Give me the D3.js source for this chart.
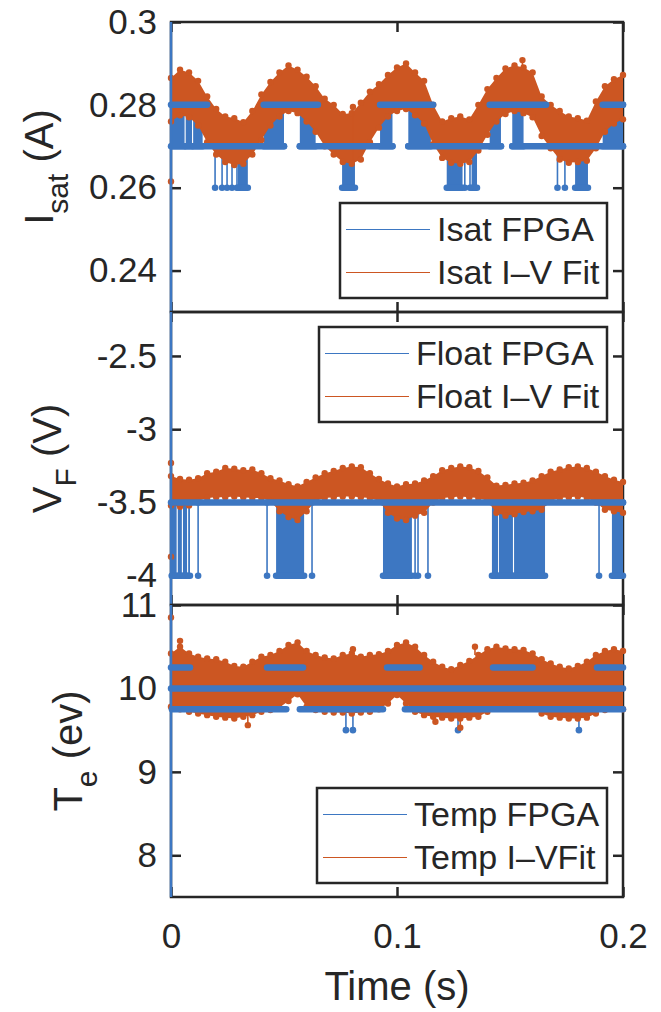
<!DOCTYPE html>
<html>
<head>
<meta charset="utf-8">
<script src="https://cdn.jsdelivr.net/npm/d3@7"></script>
<style>
  body { margin: 0; background: #fff; }
  svg { display: block; font-family: "Liberation Sans", Arial, Helvetica, sans-serif; }
</style>
</head>
<body>
<div id="graph"></div>
<script>
// ---- values ----
const xTicks = [0, 0.1, 0.2]
const xTickLabels = ['0', '0.1', '0.2']

// sample times of the I-V fit envelope (s)
const fitT = [0, 0.004, 0.008, 0.012, 0.016, 0.02, 0.024, 0.028, 0.032, 0.036, 0.04, 0.044, 0.048, 0.052, 0.056, 0.06, 0.064, 0.068, 0.072, 0.076, 0.08, 0.084, 0.088, 0.092, 0.096, 0.1, 0.104, 0.108, 0.112, 0.116, 0.12, 0.124, 0.128, 0.132, 0.136, 0.14, 0.144, 0.148, 0.152, 0.156, 0.16, 0.164, 0.168, 0.172, 0.176, 0.18, 0.184, 0.188, 0.192, 0.196, 0.2]

// Isat (A)
const isatTicks = [0.24, 0.26, 0.28, 0.3]
const isatTickLabels = ['0.24', '0.26', '0.28', '0.3']
const isatFitHi = [0.2865, 0.2885, 0.2878, 0.2858, 0.2820, 0.2790, 0.2772, 0.2768, 0.2758, 0.2785, 0.2825, 0.2855, 0.2878, 0.2895, 0.2885, 0.2868, 0.2845, 0.2815, 0.2800, 0.2778, 0.2780, 0.2805, 0.2832, 0.2850, 0.2872, 0.2890, 0.2900, 0.2878, 0.2858, 0.2800, 0.2760, 0.2768, 0.2772, 0.2765, 0.2800, 0.2838, 0.2865, 0.2888, 0.2895, 0.2890, 0.2878, 0.2820, 0.2800, 0.2785, 0.2772, 0.2768, 0.2762, 0.2808, 0.2845, 0.2862, 0.2872]
const isatFitLo = [0.2760, 0.2775, 0.2770, 0.2750, 0.2710, 0.2680, 0.2662, 0.2655, 0.2658, 0.2680, 0.2715, 0.2750, 0.2772, 0.2785, 0.2780, 0.2760, 0.2735, 0.2700, 0.2680, 0.2662, 0.2658, 0.2668, 0.2710, 0.2745, 0.2772, 0.2785, 0.2790, 0.2775, 0.2755, 0.2705, 0.2672, 0.2660, 0.2658, 0.2662, 0.2690, 0.2728, 0.2760, 0.2778, 0.2785, 0.2780, 0.2770, 0.2725, 0.2695, 0.2668, 0.2660, 0.2662, 0.2665, 0.2695, 0.2735, 0.2755, 0.2765]
const isatFitOut = [[0, 0.2615], [0.0805, 0.2795], [0.1555, 0.2908]]
// FPGA: held levels [t0, t1, level]
const isatRuns = [[0, 0.016, 0.28], [0.041, 0.065, 0.28], [0.0925, 0.116, 0.28], [0.141, 0.166, 0.28], [0.191, 0.2, 0.28],
  [0, 0.05, 0.27], [0.057, 0.098, 0.27], [0.105, 0.146, 0.27], [0.151, 0.2, 0.27]]
// FPGA: fast toggling [t0, t1, lo, hi]
const isatBlocks = [[0.0004, 0.006, 0.27, 0.28], [0.0065, 0.0093, 0.27, 0.28], [0.0098, 0.014, 0.27, 0.28], [0.041, 0.05, 0.27, 0.28],
  [0.057, 0.064, 0.27, 0.28], [0.0925, 0.098, 0.27, 0.28], [0.105, 0.115, 0.27, 0.28], [0.141, 0.146, 0.27, 0.28],
  [0.151, 0.156, 0.27, 0.28], [0.191, 0.2, 0.27, 0.28],
  [0.0296, 0.034, 0.26, 0.27], [0.0757, 0.0814, 0.26, 0.27], [0.122, 0.129, 0.26, 0.27], [0.133, 0.1354, 0.26, 0.27], [0.1788, 0.1845, 0.26, 0.27]]
// FPGA: single switches [t, lo, hi]
const isatStems = [[0.0195, 0.26, 0.27], [0.0226, 0.26, 0.27], [0.0248, 0.26, 0.27], [0.027, 0.26, 0.27], [0.0292, 0.26, 0.27],
  [0.130, 0.26, 0.27], [0.1323, 0.26, 0.27], [0.171, 0.26, 0.27], [0.1743, 0.26, 0.27]]
const isatInit = [0.2, 0.31]

// Floating potential (V)
const floatTicks = [-4, -3.5, -3, -2.5]
const floatTickLabels = ['-4', '-3.5', '-3', '-2.5']
const floatFitHi = [-3.32, -3.34, -3.345, -3.335, -3.30, -3.29, -3.265, -3.27, -3.28, -3.275, -3.30, -3.335, -3.35, -3.375, -3.39, -3.36, -3.33, -3.30, -3.285, -3.265, -3.255, -3.26, -3.30, -3.34, -3.37, -3.39, -3.375, -3.37, -3.35, -3.32, -3.28, -3.265, -3.255, -3.26, -3.285, -3.33, -3.385, -3.38, -3.37, -3.365, -3.35, -3.32, -3.29, -3.275, -3.26, -3.255, -3.265, -3.29, -3.32, -3.345, -3.36]
const floatFitLo = [-3.52, -3.53, -3.52, -3.49, -3.47, -3.465, -3.465, -3.46, -3.465, -3.47, -3.47, -3.49, -3.56, -3.60, -3.62, -3.56, -3.49, -3.47, -3.465, -3.46, -3.46, -3.465, -3.47, -3.49, -3.57, -3.61, -3.62, -3.59, -3.57, -3.50, -3.47, -3.465, -3.46, -3.465, -3.47, -3.49, -3.57, -3.59, -3.58, -3.565, -3.56, -3.55, -3.49, -3.47, -3.465, -3.46, -3.47, -3.50, -3.55, -3.56, -3.57]
const floatFitOut = [[0, -3.87], [0, -3.23]]
const floatRuns = [[0, 0.2, -3.5]]
const floatBlocks = [[0.0003, 0.0025, -4, -3.5], [0.003, 0.0048, -4, -3.5], [0.0053, 0.0071, -4, -3.5], [0.0076, 0.0084, -4, -3.5],
  [0.0465, 0.0589, -4, -3.5], [0.0938, 0.1066, -4, -3.5], [0.142, 0.1447, -4, -3.5], [0.1451, 0.1513, -4, -3.5],
  [0.1518, 0.1655, -4, -3.5], [0.1951, 0.2, -4, -3.5]]
const floatStems = [[0.012, -4, -3.5], [0.0425, -4, -3.5], [0.0624, -4, -3.5], [0.108, -4, -3.5], [0.1093, -4, -3.5], [0.1137, -4, -3.5], [0.1894, -4, -3.5]]
const floatInit = [-4.3, -2.1]

// Electron temperature (eV)
const tempTicks = [8, 9, 10, 11]
const tempTickLabels = ['8', '9', '10', '11']
const tempFitHi = [10.42, 10.5, 10.42, 10.38, 10.36, 10.35, 10.32, 10.27, 10.26, 10.32, 10.38, 10.4, 10.45, 10.52, 10.55, 10.45, 10.4, 10.37, 10.36, 10.4, 10.42, 10.38, 10.4, 10.41, 10.45, 10.52, 10.55, 10.5, 10.4, 10.32, 10.26, 10.23, 10.28, 10.33, 10.4, 10.47, 10.5, 10.48, 10.47, 10.46, 10.42, 10.35, 10.3, 10.26, 10.24, 10.27, 10.32, 10.4, 10.45, 10.47, 10.45]
const tempFitLo = [9.78, 9.75, 9.72, 9.7, 9.68, 9.66, 9.65, 9.64, 9.66, 9.68, 9.72, 9.74, 9.77, 9.85, 9.93, 9.78, 9.74, 9.72, 9.71, 9.71, 9.7, 9.71, 9.72, 9.75, 9.82, 9.92, 9.82, 9.72, 9.68, 9.66, 9.65, 9.64, 9.64, 9.65, 9.66, 9.72, 9.78, 9.77, 9.78, 9.78, 9.76, 9.7, 9.66, 9.65, 9.64, 9.64, 9.65, 9.7, 9.74, 9.76, 9.75]
const tempFitOut = [[0, 10.85], [0.004, 10.57], [0.034, 9.56], [0.0805, 10.47], [0.117, 9.6], [0.128, 9.53], [0.1345, 10.5]]
const tempRuns = [[0, 0.2, 10], [0, 0.0084, 10.25], [0.0425, 0.0584, 10.25], [0.0956, 0.110, 10.25], [0.1425, 0.160, 10.25], [0.1885, 0.2, 10.25],
  [0.0004, 0.051, 9.75], [0.057, 0.0938, 9.75], [0.1035, 0.2, 9.75]]
const tempBlocks = []
const tempStems = [[0.0774, 9.5, 9.75], [0.0805, 9.5, 9.75], [0.127, 9.5, 9.75], [0.1805, 9.5, 9.75]]
const tempInit = [7.4, 11.1]

// ---- layout ----
const W = 661, H = 1012
const ink = '#262626'
const blue = '#3d77c2'
const orange = '#cc5622'
const tickFont = 35, labelFont = 40, legendFont = 34

const panels = [
  {top: 22, bottom: 312, domain: [0.23, 0.3], ticks: isatTicks, tickLabels: isatTickLabels, label: ['I', 'sat', ' (A)'],
   legend: ['Isat FPGA', 'Isat I\u2013V Fit'], legendAt: 'bottom',
   hi: isatFitHi, lo: isatFitLo, out: isatFitOut, runs: isatRuns, blocks: isatBlocks, stems: isatStems, init: isatInit},
  {top: 312, bottom: 605, domain: [-4.2, -2.2], ticks: floatTicks, tickLabels: floatTickLabels, label: ['V', 'F', ' (V)'],
   legend: ['Float FPGA', 'Float I\u2013V Fit'], legendAt: 'top',
   hi: floatFitHi, lo: floatFitLo, out: floatFitOut, runs: floatRuns, blocks: floatBlocks, stems: floatStems, init: floatInit},
  {top: 605, bottom: 897, domain: [7.5, 11], ticks: tempTicks, tickLabels: tempTickLabels, label: ['T', 'e', ' (ev)'],
   legend: ['Temp FPGA', 'Temp I\u2013VFit'], legendAt: 'bottom',
   hi: tempFitHi, lo: tempFitLo, out: tempFitOut, runs: tempRuns, blocks: tempBlocks, stems: tempStems, init: tempInit}
]

const svg = d3.select('#graph').append('svg').attr('width', W).attr('height', H)

const x = d3.scaleLinear().domain([0, 0.2]).range([171, 623])
const [x0, x1] = x.range()

const styleAxis = (g) => {
  g.attr('font-size', tickFont).attr('font-family', null).attr('color', ink)
  g.select('.domain').remove()
  g.selectAll('.tick line').attr('stroke-width', 2.5)
  g.selectAll('.tick text').attr('fill', ink)
}

panels.forEach((p, pi) => {
  const y = d3.scaleLinear().domain(p.domain).range([p.bottom, p.top])
  const g = svg.append('g')

  // box
  g.append('rect')
    .attr('x', x0).attr('y', p.top)
    .attr('width', x1 - x0).attr('height', p.bottom - p.top)
    .attr('fill', 'none').attr('stroke', ink).attr('stroke-width', 2.5)

  // inward ticks on all four sides
  const yAx = g.append('g').attr('transform', `translate(${x0},0)`)
    .call(d3.axisLeft(y).tickValues(p.ticks).tickFormat((d, i) => p.tickLabels[i])
      .tickSizeInner(-10).tickSizeOuter(0).tickPadding(14))
    .call(styleAxis)
  g.append('g').attr('transform', `translate(${x1},0)`)
    .call(d3.axisRight(y).tickValues(p.ticks).tickFormat(() => '').tickSizeInner(-10).tickSizeOuter(0))
    .call(styleAxis)
  g.append('g').attr('transform', `translate(0,${p.top})`)
    .call(d3.axisTop(x).tickValues(xTicks).tickFormat(() => '').tickSizeInner(-10).tickSizeOuter(0))
    .call(styleAxis)
  const last = pi === panels.length - 1
  g.append('g').attr('transform', `translate(0,${p.bottom})`)
    .call(d3.axisBottom(x).tickValues(xTicks).tickFormat((d, i) => last ? xTickLabels[i] : '')
      .tickSizeInner(-10).tickSizeOuter(0).tickPadding(26))
    .call(styleAxis)

  // y label, placed left of the tick labels
  let minLeft = Infinity
  yAx.selectAll('.tick text').each(function () {
    const b = this.getBBox()
    const m = this.parentNode.transform.baseVal.consolidate().matrix
    minLeft = Math.min(minLeft, x0 + m.e + b.x)
  })
  const lab = svg.append('text')
    .attr('font-size', labelFont).attr('fill', ink).attr('text-anchor', 'middle')
  lab.append('tspan').text(p.label[0])
  lab.append('tspan').attr('font-size', labelFont * 0.75).attr('dy', 15).text(p.label[1])
  lab.append('tspan').attr('dy', -15).text(p.label[2])
  const lb = lab.node().getBBox()
  const tx = minLeft - 15 - (lb.y + lb.height)
  lab.attr('transform', `translate(${tx},${(p.top + p.bottom) / 2}) rotate(-90)`)

  // data, clipped to the axes
  const clipId = 'clip' + pi
  svg.append('clipPath').attr('id', clipId).append('rect')
    .attr('x', x0 - 4).attr('y', p.top).attr('width', x1 - x0 + 8).attr('height', p.bottom - p.top)
  const d = svg.append('g').attr('clip-path', `url(#${clipId})`)

  // FPGA fast toggling blocks
  p.blocks.forEach(b => {
    d.append('rect')
      .attr('x', x(b[0])).attr('y', y(b[3]))
      .attr('width', x(b[1]) - x(b[0])).attr('height', y(b[2]) - y(b[3]))
      .attr('fill', blue)
    ;[b[2], b[3]].forEach(v => d.append('line')
      .attr('x1', x(b[0])).attr('x2', x(b[1])).attr('y1', y(v)).attr('y2', y(v))
      .attr('stroke', blue).attr('stroke-width', 6.5).attr('stroke-linecap', 'round'))
  })
  // FPGA single switches
  p.stems.forEach(s => {
    d.append('line')
      .attr('x1', x(s[0])).attr('x2', x(s[0])).attr('y1', y(s[1])).attr('y2', y(s[2]))
      .attr('stroke', blue).attr('stroke-width', 1.6)
    ;[s[1], s[2]].forEach(v => d.append('circle')
      .attr('cx', x(s[0])).attr('cy', y(v)).attr('r', 3.3).attr('fill', blue))
  })

  // I-V fit band
  const area = d3.area()
    .x((t) => x(t))
    .y0((t, i) => y(p.lo[i]))
    .y1((t, i) => y(p.hi[i]))
  d.append('path').datum(fitT).attr('d', area).attr('fill', orange)
  fitT.forEach((t, i) => {
    ;[p.hi[i], p.lo[i]].forEach(v => d.append('circle')
      .attr('cx', x(t)).attr('cy', y(v)).attr('r', 3.2).attr('fill', orange))
  })
  const bis = d3.bisector(t => t).left
  p.out.forEach(o => {
    const i = Math.min(bis(fitT, o[0]), fitT.length - 1)
    const edge = o[1] > p.hi[i] ? p.hi[i] : p.lo[i]
    d.append('line')
      .attr('x1', x(o[0])).attr('x2', x(o[0])).attr('y1', y(edge)).attr('y2', y(o[1]))
      .attr('stroke', orange).attr('stroke-width', 1.6)
    d.append('circle').attr('cx', x(o[0])).attr('cy', y(o[1])).attr('r', 3.2).attr('fill', orange)
  })

  // FPGA held levels on top
  p.runs.forEach(r => {
    d.append('line')
      .attr('x1', x(r[0])).attr('x2', x(r[1])).attr('y1', y(r[2])).attr('y2', y(r[2]))
      .attr('stroke', blue).attr('stroke-width', 6.5).attr('stroke-linecap', 'round')
  })
  // start-up transient at t = 0
  d.append('line')
    .attr('x1', x(0)).attr('x2', x(0)).attr('y1', y(p.init[0])).attr('y2', y(p.init[1]))
    .attr('stroke', blue).attr('stroke-width', 2.5)

  // legend
  const leg = svg.append('g')
  const box = leg.append('rect').attr('fill', '#fff').attr('stroke', ink).attr('stroke-width', 2.5)
  const txt = p.legend.map(s => leg.append('text')
    .attr('font-size', legendFont).attr('fill', ink).text(s))
  const tw = d3.max(txt, t => t.node().getComputedTextLength())
  const bw = 97 + tw + 8, bh = 95
  const bx = Math.round(x1 - 16 - bw)
  const by = p.legendAt === 'top' ? p.top + 15 : p.bottom - 14 - bh
  box.attr('x', bx).attr('y', by).attr('width', x1 - 16 - bx).attr('height', bh)
  ;[blue, orange].forEach((c, i) => {
    const ry = by + 26 + i * 43
    leg.append('line')
      .attr('x1', bx + 6).attr('x2', bx + 90).attr('y1', ry + 0.5).attr('y2', ry + 0.5)
      .attr('stroke', c).attr('stroke-width', 1)
    txt[i].attr('x', bx + 97).attr('y', ry).attr('dy', '0.36em')
  })
})

// x label
svg.append('text')
  .attr('x', (x0 + x1) / 2).attr('y', 1000)
  .attr('text-anchor', 'middle').attr('font-size', labelFont).attr('fill', ink)
  .text('Time (s)')
</script>
</body>
</html>
